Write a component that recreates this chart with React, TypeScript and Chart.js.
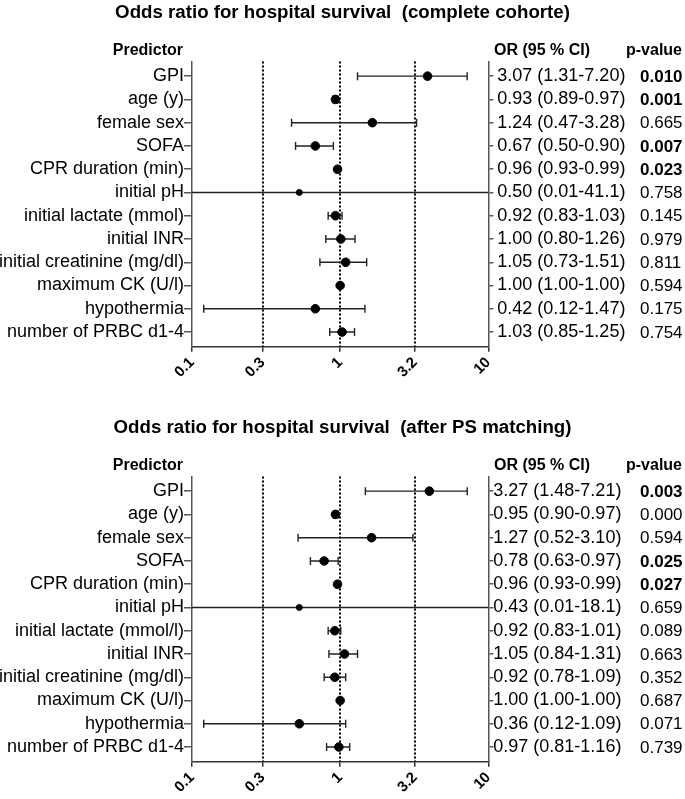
import React, { useEffect, useRef } from 'react';
import { Chart, registerables } from 'chart.js';

Chart.register(...registerables);

const FONT = "'Liberation Sans', Arial, Helvetica, sans-serif";

// ---------- shared axis data ----------
const X_TICKS = [0.1, 0.3, 1, 3.2, 10];
const X_TICK_LABELS = ['0.1', '0.3', '1', '3.2', '10'];
const REF_LINES = [0.3, 1, 3.2];

// ---------- complete cohort ----------
const TITLE_ALL = 'Odds ratio for hospital survival  (complete cohorte)';
const PREDICTORS_ALL = [
  'GPI', 'age (y)', 'female sex', 'SOFA', 'CPR duration (min)', 'initial pH',
  'initial lactate (mmol)', 'initial INR', 'initial creatinine (mg/dl)',
  'maximum CK (U/l)', 'hypothermia', 'number of PRBC d1-4',
];
const POINT_ALL = [3.89, 0.93, 1.65, 0.68, 0.96, 0.53, 0.93, 1.01, 1.09, 1.0, 0.68, 1.03];
const LOW_ALL = [1.31, 0.89, 0.47, 0.5, 0.93, 0.01, 0.83, 0.8, 0.73, 1.0, 0.12, 0.85];
const HIGH_ALL = [7.2, 0.97, 3.28, 0.9, 0.99, 41.1, 1.03, 1.26, 1.51, 1.0, 1.47, 1.25];
const OR_TEXT_ALL = [
  '3.07 (1.31-7.20)', '0.93 (0.89-0.97)', '1.24 (0.47-3.28)', '0.67 (0.50-0.90)',
  '0.96 (0.93-0.99)', '0.50 (0.01-41.1)', '0.92 (0.83-1.03)', '1.00 (0.80-1.26)',
  '1.05 (0.73-1.51)', '1.00 (1.00-1.00)', '0.42 (0.12-1.47)', '1.03 (0.85-1.25)',
];
const P_ALL = ['0.010', '0.001', '0.665', '0.007', '0.023', '0.758', '0.145', '0.979', '0.811', '0.594', '0.175', '0.754'];
const P_BOLD_ALL = [true, true, false, true, true, false, false, false, false, false, false, false];

// ---------- after PS matching ----------
const TITLE_PS = 'Odds ratio for hospital survival  (after PS matching)';
const PREDICTORS_PS = [
  'GPI', 'age (y)', 'female sex', 'SOFA', 'CPR duration (min)', 'initial pH',
  'initial lactate (mmol/l)', 'initial INR', 'initial creatinine (mg/dl)',
  'maximum CK (U/l)', 'hypothermia', 'number of PRBC d1-4',
];
const POINT_PS = [4.0, 0.93, 1.63, 0.78, 0.96, 0.53, 0.92, 1.07, 0.92, 1.0, 0.53, 0.98];
const LOW_PS = [1.48, 0.9, 0.52, 0.63, 0.93, 0.01, 0.83, 0.84, 0.78, 1.0, 0.12, 0.81];
const HIGH_PS = [7.21, 0.97, 3.1, 0.97, 0.99, 18.1, 1.01, 1.31, 1.09, 1.0, 1.09, 1.16];
const OR_TEXT_PS = [
  '3.27 (1.48-7.21)', '0.95 (0.90-0.97)', '1.27 (0.52-3.10)', '0.78 (0.63-0.97)',
  '0.96 (0.93-0.99)', '0.43 (0.01-18.1)', '0.92 (0.83-1.01)', '1.05 (0.84-1.31)',
  '0.92 (0.78-1.09)', '1.00 (1.00-1.00)', '0.36 (0.12-1.09)', '0.97 (0.81-1.16)',
];
const P_PS = ['0.003', '0.000', '0.594', '0.025', '0.027', '0.659', '0.089', '0.663', '0.352', '0.687', '0.071', '0.739'];
const P_BOLD_PS = [true, false, false, true, true, false, false, false, false, false, false, false];

const SMALL_DOT_ROW = 5; // initial pH drawn with a smaller marker

type Cfg = {
  title: string;
  predictors: string[];
  point: number[];
  low: number[];
  high: number[];
  orText: string[];
  p: string[];
  pBold: boolean[];
  orPad: number;
};

const CANVAS_W = 685;
const CANVAS_H = 415;

function makePlugin(cfg: Cfg) {
  return {
    id: 'forest',
    beforeDatasetsDraw(chart: any) {
      const { ctx, chartArea, scales } = chart;
      const x = scales.x;
      const y = scales.y;
      // dotted reference lines
      ctx.save();
      ctx.strokeStyle = '#000';
      ctx.lineWidth = 2;
      ctx.setLineDash([2, 2]);
      for (const v of REF_LINES) {
        const px = Math.round(x.getPixelForValue(v));
        ctx.beginPath();
        ctx.moveTo(px, chartArea.top);
        ctx.lineTo(px, chartArea.bottom);
        ctx.stroke();
      }
      ctx.restore();
      // confidence intervals
      ctx.save();
      ctx.beginPath();
      ctx.rect(chartArea.left, chartArea.top - 30, chartArea.right - chartArea.left, chartArea.bottom - chartArea.top + 60);
      ctx.clip();
      ctx.strokeStyle = '#222';
      ctx.lineWidth = 1.4;
      cfg.low.forEach((lo, i) => {
        const py = y.getPixelForValue(i);
        const x0 = x.getPixelForValue(lo);
        const x1 = x.getPixelForValue(cfg.high[i]);
        ctx.beginPath();
        ctx.moveTo(x0, py);
        ctx.lineTo(x1, py);
        ctx.moveTo(x0, py - 4);
        ctx.lineTo(x0, py + 4);
        ctx.moveTo(x1, py - 4);
        ctx.lineTo(x1, py + 4);
        ctx.stroke();
      });
      ctx.restore();
    },
    afterDraw(chart: any) {
      const { ctx, scales } = chart;
      const y = scales.y;
      ctx.save();
      ctx.fillStyle = '#000';
      // title
      ctx.font = `bold 18.7px ${FONT}`;
      ctx.textAlign = 'center';
      ctx.textBaseline = 'alphabetic';
      ctx.fillText(cfg.title, CANVAS_W / 2, 17.5);
      // headers
      ctx.font = `bold 16px ${FONT}`;
      ctx.textAlign = 'right';
      ctx.fillText('Predictor', 183, 55);
      ctx.textAlign = 'left';
      ctx.fillText('OR (95 % CI)', 494, 55);
      ctx.fillText('p-value', 626, 55);
      // p-values
      ctx.textBaseline = 'middle';
      cfg.p.forEach((t, i) => {
        ctx.font = `${cfg.pBold[i] ? 'bold ' : ''}17px ${FONT}`;
        ctx.fillText(t, 640, y.getPixelForValue(i) + 1);
      });
      ctx.restore();
    },
  };
}

function ForestChart({ cfg }: { cfg: Cfg }) {
  const ref = useRef<HTMLCanvasElement>(null);
  useEffect(() => {
    const canvas = ref.current;
    if (!canvas) return;
    const rowTicks = (s: any) => {
      s.ticks = cfg.predictors.map((_, i) => ({ value: i }));
    };
    const chart = new Chart(canvas, {
      type: 'scatter',
      data: {
        datasets: [
          {
            data: cfg.point.map((v, i) => ({ x: v, y: i })),
            backgroundColor: '#000',
            borderColor: '#000',
            pointRadius: cfg.point.map((_, i) => (i === SMALL_DOT_ROW ? 3 : 4.3)),
            pointHoverRadius: 0,
            yAxisID: 'y',
          },
        ],
      },
      options: {
        animation: false,
        responsive: false,
        devicePixelRatio: 1,
        events: [],
        layout: { padding: { top: 61.5, left: 0, right: 0, bottom: 0 } },
        plugins: { legend: { display: false }, tooltip: { enabled: false }, title: { display: false } },
        scales: {
          x: {
            type: 'logarithmic',
            min: 0.1,
            max: 10,
            afterBuildTicks: (s: any) => {
              s.ticks = X_TICKS.map((v) => ({ value: v }));
            },
            afterFit: (s: any) => {
              s.height = 68.3;
            },
            ticks: {
              autoSkip: false,
              minRotation: 45,
              maxRotation: 45,
              padding: 2,
              color: '#000',
              font: { family: FONT, size: 15, weight: 'bold' },
              callback: (_v: any, i: number) => X_TICK_LABELS[i],
            },
            grid: { drawOnChartArea: false, drawTicks: true, tickLength: 5, color: '#333', lineWidth: 1.5 },
            border: { display: true, color: '#333', width: 1.5 },
          },
          y: {
            type: 'linear',
            position: 'left',
            reverse: true,
            min: -0.63,
            max: 11.63,
            afterBuildTicks: rowTicks,
            afterFit: (s: any) => {
              s.width = 192;
            },
            ticks: {
              autoSkip: false,
              padding: 0,
              color: '#000',
              font: { family: FONT, size: 18 },
              callback: (v: any) => cfg.predictors[Math.round(v)] ?? '',
            },
            grid: { drawOnChartArea: false, drawTicks: true, tickLength: 8, color: '#555', lineWidth: 1.5 },
            border: { display: true, color: '#555', width: 1.5 },
          },
          y2: {
            type: 'linear',
            position: 'right',
            reverse: true,
            min: -0.63,
            max: 11.63,
            afterBuildTicks: rowTicks,
            afterFit: (s: any) => {
              s.width = CANVAS_W - 488.3;
            },
            ticks: {
              autoSkip: false,
              padding: cfg.orPad,
              color: '#000',
              font: { family: FONT, size: 18 },
              callback: (v: any) => cfg.orText[Math.round(v)] ?? '',
            },
            grid: { drawOnChartArea: false, drawTicks: true, tickLength: 5, color: '#555', lineWidth: 1.5 },
            border: { display: true, color: '#555', width: 1.5 },
          },
        },
      } as any,
      plugins: [makePlugin(cfg)],
    });
    return () => chart.destroy();
  }, [cfg]);
  return (
    <canvas
      ref={ref}
      width={CANVAS_W}
      height={CANVAS_H}
      style={{ display: 'block', width: CANVAS_W, height: CANVAS_H }}
    />
  );
}

const CFG_ALL: Cfg = {
  title: TITLE_ALL,
  predictors: PREDICTORS_ALL,
  point: POINT_ALL,
  low: LOW_ALL,
  high: HIGH_ALL,
  orText: OR_TEXT_ALL,
  p: P_ALL,
  pBold: P_BOLD_ALL,
  orPad: 4,
};

const CFG_PS: Cfg = {
  title: TITLE_PS,
  predictors: PREDICTORS_PS,
  point: POINT_PS,
  low: LOW_PS,
  high: HIGH_PS,
  orText: OR_TEXT_PS,
  p: P_PS,
  pBold: P_BOLD_PS,
  orPad: 0,
};

export default function App() {
  return (
    <div
      style={{
        position: 'fixed',
        left: 0,
        top: 0,
        width: 685,
        height: 799,
        overflow: 'hidden',
        background: '#fff',
      }}
    >
      <ForestChart cfg={CFG_ALL} />
      <ForestChart cfg={CFG_PS} />
    </div>
  );
}
